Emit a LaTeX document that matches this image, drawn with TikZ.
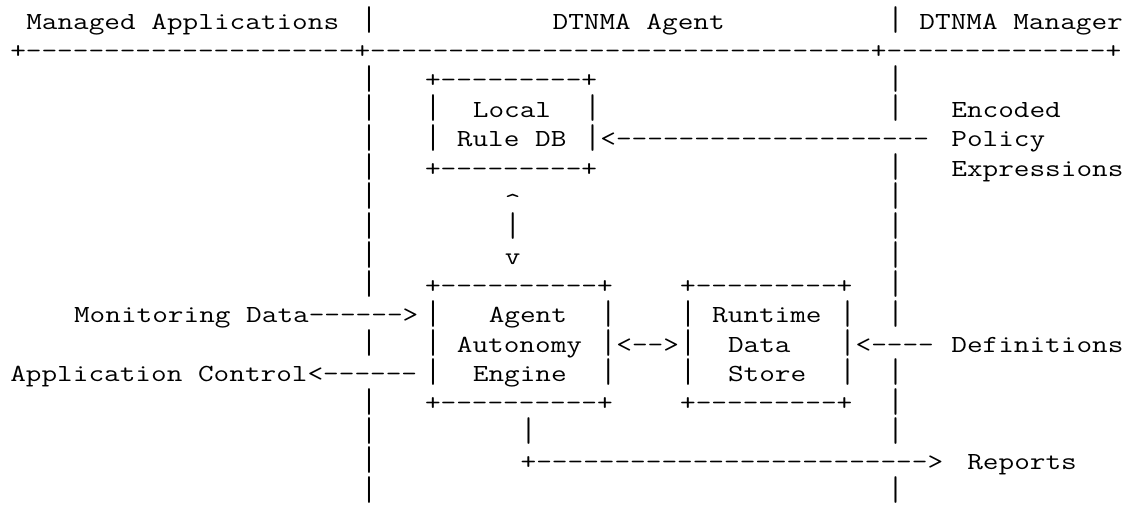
\documentclass[tikz,border=0pt]{standalone}
\usepackage{graphicx}

% monospaced glyphs, widened to the column pitch of the grid
\newcommand\cellfont[1]{\scalebox{1.2384}[1]{#1}}
% tall bar glyph, so that stacked bars join into a near-continuous line
\newcommand\vbar{\raisebox{-3.2pt}{\resizebox*{0.525em}{20pt}{\raisebox{\depth}{|}}}}
\newcommand\seg[4]{\node[txt] (#1) at (#2,#3) {\cellfont{#4}};}

\tikzset{
  txt/.style={anchor=base west, inner sep=0pt, outer sep=0pt,
              font=\fontsize{18.4pt}{18.4pt}\selectfont\ttfamily, text=black}
}

\begin{document}
\begin{tikzpicture}
\useasboundingbox (0pt,0pt) rectangle (857.25pt,-379.5pt);
\fill[white] (0pt,0pt) rectangle (857.25pt,-379.5pt);

% one unit = one character column / one text row
\begin{scope}[shift={(7.725pt,-21.975pt)}, x=11.9625pt, y=-22.0125pt]

% header row
\seg{hApps}{1}{0}{Managed Applications}
\seg{hDivA}{22}{0}{\vbar}
\seg{hAgent}{34}{0}{DTNMA Agent}
\seg{hDivB}{55}{0}{\vbar}
\seg{hMgr}{57}{0}{DTNMA Manager}
\seg{rule}{0}{1}{+---------------------+--------------------------------+--------------+}

% lane dividers
\foreach \r in {2,...,9,11,13,14,15,16} {\node[txt] (laneA\r) at (22,\r) {\cellfont{\vbar}};}
\foreach \r in {2,3,5,6,7,8,9,10,12,13,14,16} {\node[txt] (laneB\r) at (55,\r) {\cellfont{\vbar}};}

% local rule database
\seg{dbTop}{26}{2}{+---------+}
\seg{dbL1}{26}{3}{\vbar}
\seg{dbLocal}{29}{3}{Local}
\seg{dbR1}{36}{3}{\vbar}
\seg{dbL2}{26}{4}{\vbar}
\seg{dbRule}{28}{4}{Rule DB}
\seg{dbR2}{36}{4}{\vbar}
\seg{policyArrow}{37}{4}{<--------------------}
\seg{dbBot}{26}{5}{+---------+}
\seg{encoded}{59}{3}{Encoded}
\seg{policy}{59}{4}{Policy}
\seg{expr}{59}{5}{Expressions}

% link between database and engine
\seg{up}{31}{6}{\raisebox{-3pt}{\textasciicircum}}
\seg{link}{31}{7}{\vbar}
\seg{down}{31}{8}{v}

% agent autonomy engine and runtime data store
\seg{aaeTop}{26}{9}{+----------+}
\seg{rdsTop}{42}{9}{+---------+}
\seg{monitor}{4}{10}{Monitoring Data------>}
\seg{aaeL1}{26}{10}{\vbar}
\seg{aaeAgent}{30}{10}{Agent}
\seg{aaeR1}{37}{10}{\vbar}
\seg{rdsL1}{42}{10}{\vbar}
\seg{rdsRuntime}{44}{10}{Runtime}
\seg{rdsR1}{52}{10}{\vbar}
\seg{aaeL2}{26}{11}{\vbar}
\seg{aaeAuto}{28}{11}{Autonomy}
\seg{aaeR2}{37}{11}{\vbar}
\seg{both}{38}{11}{<-->}
\seg{rdsL2}{42}{11}{\vbar}
\seg{rdsData}{45}{11}{Data}
\seg{rdsR2}{52}{11}{\vbar}
\seg{defArrow}{53}{11}{<----}
\seg{defs}{59}{11}{Definitions}
\seg{control}{0}{12}{Application Control<------}
\seg{aaeL3}{26}{12}{\vbar}
\seg{aaeEngine}{29}{12}{Engine}
\seg{aaeR3}{37}{12}{\vbar}
\seg{rdsL3}{42}{12}{\vbar}
\seg{rdsStore}{45}{12}{Store}
\seg{rdsR3}{52}{12}{\vbar}
\seg{aaeBot}{26}{13}{+----------+}
\seg{rdsBot}{42}{13}{+---------+}

% reports
\seg{repStem}{32}{14}{\vbar}
\seg{repArrow}{32}{15}{+------------------------->}
\seg{reports}{60}{15}{Reports}

\end{scope}
\end{tikzpicture}
\end{document}
